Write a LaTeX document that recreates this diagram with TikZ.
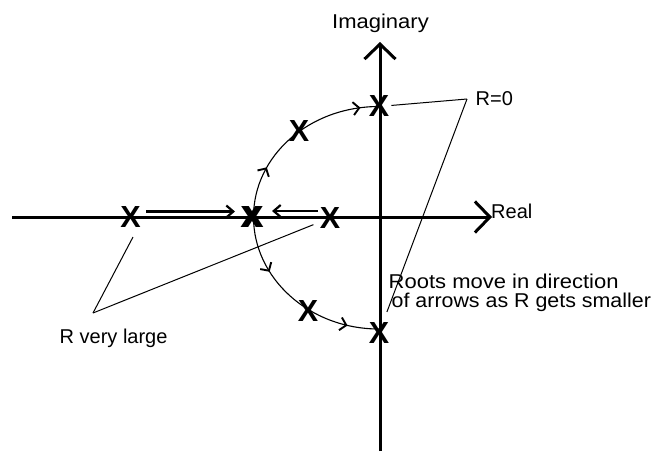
\documentclass[tikz,border=0pt]{standalone}
\usepackage{fontspec}
\setmainfont{Liberation Sans}
\usetikzlibrary{arrows.meta,decorations.markings,calc}
\begin{document}
\begin{tikzpicture}[x=1pt,y=-1pt,
  pole/.style={font=\fontsize{30.5}{30}\selectfont\bfseries, inner sep=0pt},
  lbl/.style={font=\fontsize{20}{20}\selectfont, inner sep=0pt},
  axisline/.style={line width=3pt, -{Straight Barb[length=15pt,width=31pt]}},
  leader/.style={line width=1pt},
  moveline/.style={line width=2.2pt, -{Straight Barb[length=7pt,width=12pt]}},
  locus/.style={line width=1.1pt},
  chev/.style={line width=1.9pt}]
\useasboundingbox (0,0) rectangle (653,453);
% axes
\coordinate (realL) at (12,217);
\coordinate (realR) at (492,217);
\coordinate (imagB) at (380,451);
\coordinate (imagT) at (380,42);
\draw[axisline] (realL) -- (realR);
\draw[axisline] (imagB) -- (imagT);
% poles
\node[pole] (x1) at (130.5,217.5) {X};
\node[pole] (x2a) at (250.5,217) {X};
\node[pole] (x2) at (253.5,217) {X};
\node[pole] (x3) at (330,218) {X};
\node[pole] (xt) at (379,106.5) {X};
\node[pole] (xu) at (299,131) {X};
\node[pole] (xl) at (308,311.5) {X};
\node[pole] (xb) at (379,333) {X};
% root loci
\draw[locus, postaction={decorate}, decoration={markings,
    mark=at position 0.28 with {\arrow[chev]{Straight Barb[length=6pt,width=13pt]}},
    mark=at position 0.9 with {\arrow[chev]{Straight Barb[length=6pt,width=13pt]}}}]
  (x2.center) .. controls +(0,-61) and +(-70,0) .. (xt.center);
\draw[locus, postaction={decorate}, decoration={markings,
    mark=at position 0.31 with {\arrow[chev]{Straight Barb[length=6pt,width=13pt]}},
    mark=at position 0.83 with {\arrow[chev]{Straight Barb[length=6pt,width=13pt]}}}]
  (x2.center) .. controls +(0,61) and +(-70,0) .. ([yshift=4pt]xb.center);
% movement arrows on real axis
\draw[moveline] ([xshift=15.5pt,yshift=6pt]x1.center) -- ([xshift=-18.5pt,yshift=5.5pt]x2.center);
\draw[moveline] ([xshift=-12pt,yshift=7pt]x3.center) -- ([xshift=18.5pt,yshift=6pt]x2.center);
% labels
\node[lbl, anchor=base] (imag) at (380.5,28.3) {\scalebox{1.1}[1]{Imaginary}};
\node[lbl, anchor=base west] (real) at (491,218.3) {Real};
\node[lbl, anchor=base west] (r0) at (475.5,105) {R=0};
\node[lbl, anchor=base west] (roots1) at (388.5,288.3) {\scalebox{1.1}[1]{Roots move in direction}};
\node[lbl, anchor=base west] (roots2) at (391.5,307.5) {\scalebox{1.07}[1]{of arrows as R gets smaller}};
\node[lbl, anchor=base west] (rvl) at (59.5,343.5) {R very large};
% leader lines
\coordinate (r0v) at (467,99);
\coordinate (rvv) at (93,313);
\draw[leader] (r0v) -- ($(r0v)!0.86!(xt.center)$);
\draw[leader] (r0v) -- ($(r0v)!0.91!(xb.center)$);
\draw[leader] (rvv) -- ([xshift=2.5pt,yshift=-19.5pt]x1.center);
\draw[leader] (rvv) -- ($(rvv)!0.93!(x3.center)$);
\end{tikzpicture}
\end{document}
